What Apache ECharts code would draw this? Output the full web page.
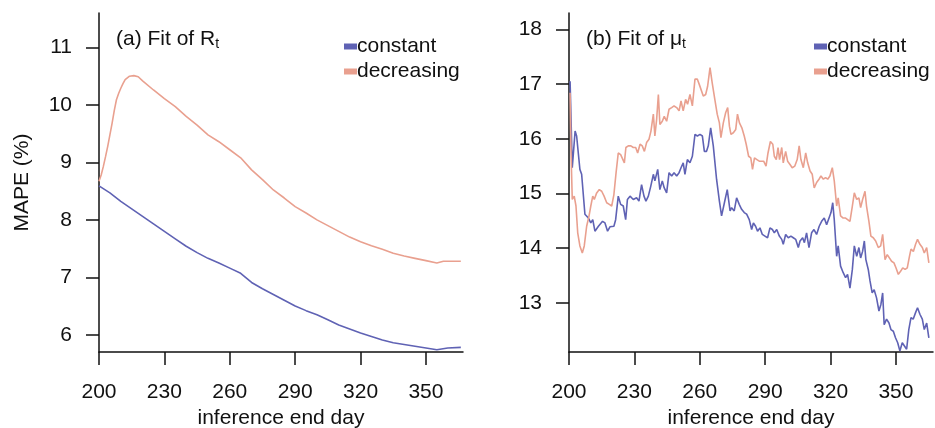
<!DOCTYPE html>
<html>
<head>
<meta charset="utf-8">
<script src="https://cdn.jsdelivr.net/npm/echarts@6/dist/echarts.min.js"></script>
<style>html,body{margin:0;padding:0;background:#fff;}#c{width:935px;height:428px;}</style>
</head>
<body>
<div id="c"></div>
<script>
// ---- Panel (a): Fit of R_t ----
const aConstDays = [200,205,210,215,220,225,230,235,240,245,250,255,260,265,270,275,280,285,290,295,300,305,310,315,320,325,330,335,340,345,350,355,360,366];
const aConstVals = [8.59,8.47,8.32,8.19,8.06,7.93,7.80,7.67,7.54,7.43,7.33,7.25,7.16,7.07,6.91,6.80,6.70,6.60,6.50,6.42,6.35,6.26,6.17,6.10,6.03,5.97,5.91,5.86,5.83,5.80,5.77,5.74,5.77,5.78];
const aDecDays = [200,201,202,203,204,205,206,207,208,209,210,211,212,214,216,218,220,225,230,235,240,245,250,255,260,265,270,275,280,285,290,295,300,305,310,315,320,325,330,335,340,345,350,355,358,366];
const aDecVals = [8.67,8.78,8.93,9.10,9.28,9.48,9.68,9.90,10.09,10.20,10.29,10.37,10.44,10.50,10.51,10.49,10.42,10.26,10.11,9.97,9.80,9.65,9.48,9.36,9.22,9.08,8.87,8.70,8.52,8.38,8.23,8.12,8.00,7.90,7.80,7.70,7.62,7.55,7.49,7.42,7.37,7.33,7.29,7.25,7.28,7.28];

// ---- Panel (b): Fit of mu_t ----
const bConstDays = [200.5,201.5,202.8,203.5,205,205.8,207.3,208.9,210,210.9,211.9,213.5,215.4,216.5,217.7,218.8,220.6,221.4,222.6,223.7,224.9,226,226.8,228,229.5,231,232.1,233.3,234.4,235.3,236.4,237.5,238.7,239.4,240.7,241.7,242.8,243.7,244.8,245.9,247.1,248.2,249.4,250.5,251.4,252.4,253.2,254.3,255.5,256.6,257.8,258.9,260.1,261.2,262.1,263.1,263.9,265,266.2,267.7,269,270,271.3,272.6,273.9,274.6,275.8,276.9,278.1,279.2,280.4,281.5,282.7,283.8,284.6,285.6,286.5,287.6,288.7,289.9,291.1,292.2,293.3,294.2,295.3,296.5,297.6,298.3,299.4,300.6,301.8,302.9,304,305.2,306,307.2,308,309,310.1,311.3,312.4,313.6,314.8,315.9,317.1,318.2,319.3,320.2,321,321.7,322.8,323.5,324.6,325.8,326.9,327.8,328.9,330,330.9,332,333,333.8,334.7,335.5,336.2,337.3,338.1,339.1,340,341.1,342.2,343.1,343.9,344.6,345.7,346.8,347.7,348.8,349.8,350.8,351.8,352.9,353.8,354.9,355.9,356.9,357.9,359,359.9,361,362.1,363,364.1,365.1];
const bConstVals = [17.05,15.47,16.14,16.05,15.44,15.35,14.62,14.55,14.46,14.52,14.31,14.40,14.49,14.46,14.31,14.39,14.40,14.52,14.95,14.80,14.77,14.52,14.89,14.95,14.89,14.92,14.86,15.16,14.95,14.86,14.95,15.13,15.35,15.23,15.44,15.07,15.23,15.10,15.01,15.38,15.32,15.38,15.32,15.38,15.47,15.56,15.35,15.62,15.56,15.68,16.08,16.05,16.08,16.05,15.77,15.77,15.87,16.20,15.87,15.26,14.86,14.59,14.83,15.07,14.68,14.74,14.68,14.92,14.80,14.71,14.65,14.62,14.52,14.34,14.46,14.40,14.31,14.37,14.25,14.22,14.19,14.37,14.34,14.28,14.34,14.22,14.16,14.07,14.25,14.19,14.22,14.19,14.16,14.01,14.13,14.19,14.10,14.28,14.01,14.28,14.34,14.25,14.40,14.49,14.55,14.43,14.55,14.65,14.83,14.52,13.85,14.04,13.67,13.55,13.46,13.52,13.27,13.61,14.04,13.85,14.01,13.82,13.94,14.13,13.79,13.61,13.40,13.18,13.24,13.09,12.85,12.97,13.18,12.60,12.70,12.63,12.51,12.48,12.36,12.27,12.12,12.27,12.24,12.15,12.51,12.73,12.70,12.82,12.91,12.79,12.70,12.51,12.63,12.36];
const bDecDays = [200.5,200.9,201.5,202.4,203.2,204,205,206.1,207,208.1,209.2,210,210.9,211.6,212.7,213.9,215,216.1,217.3,218.5,219.6,220.6,221.6,222.6,223.7,224.6,225.4,226.1,227.2,228.4,229.5,230.6,231.5,232.6,233.6,234.6,235.6,236.7,237.6,238.7,239.4,240.2,241,241.7,242.8,243.7,244.8,245.9,247.1,248.2,249.4,250.5,251.4,252.4,253.5,254.4,255.5,256.6,257.8,258.9,259.8,260.6,261.6,262.7,263.6,264.7,265.7,266.9,268,269,269.7,270.8,271.9,272.8,273.6,274.3,275.4,276.5,277.3,278.2,279.3,280.4,281.3,282.4,283.4,284.2,285.1,286.2,287.3,288.2,289.3,290.4,291.3,292.4,293.5,294.2,295.1,295.9,296.6,297.6,298.3,299.4,300.3,301.4,302.4,303.6,304.7,305.6,306.4,307.5,308.6,309.5,310.6,311.6,312.5,313.6,314.7,315.6,316.7,317.7,318.7,319.7,320.8,321.7,322.8,323.5,324.6,325.8,326.9,327.8,328.9,330,330.9,332,333,333.8,334.7,335.8,336.5,337.6,338.5,339.6,340.7,341.9,343,343.9,345,346,346.9,348,349.1,350,351.1,352.2,353.1,354.2,355.2,356.2,356.9,358,359,359.9,361,362.1,363,364.1,365.1];
const bDecVals = [16.84,15.80,14.89,14.95,14.77,14.28,14.04,13.91,14.04,14.40,14.59,14.77,14.95,14.89,15.01,15.07,15.04,14.95,14.83,14.80,14.77,14.98,15.38,15.74,15.71,15.68,15.56,15.84,15.87,15.87,15.84,15.84,15.74,15.90,15.87,15.77,15.93,15.99,16.14,16.45,16.05,16.35,16.81,16.26,16.32,16.41,16.32,16.54,16.57,16.60,16.57,16.51,16.69,16.51,16.72,16.63,16.81,16.60,17.09,17.09,16.99,16.99,16.78,16.81,16.96,17.30,17.02,16.72,16.45,16.29,16.02,16.29,16.48,16.57,16.23,16.08,16.11,16.17,16.45,16.29,16.20,16.05,15.90,15.68,15.65,15.44,15.65,15.62,15.59,15.56,15.59,15.50,15.74,15.95,15.90,15.68,15.62,15.84,15.62,15.84,15.56,15.77,15.59,15.53,15.47,15.50,15.62,15.87,15.62,15.47,15.74,15.56,15.41,15.35,15.10,15.20,15.26,15.32,15.26,15.29,15.26,15.32,15.47,15.23,14.77,14.92,14.59,14.55,14.55,14.52,14.49,14.77,15.01,14.89,14.92,14.74,14.89,15.04,14.77,14.49,14.22,14.19,14.13,14.01,14.04,14.25,13.79,13.88,13.85,13.76,13.73,13.64,13.52,13.58,13.64,13.61,13.64,13.85,13.98,13.94,14.07,14.16,14.07,14.01,13.91,14.01,13.73];

const xTicks = [200,230,260,290,320,350];
const aYTicks = [6,7,8,9,10,11];
const bYTicks = [13,14,15,16,17,18];
const seriesNames = ['constant','decreasing'];

const BLUE = '#5f62b4';
const SALMON = '#e9a08f';
const FONT = 'Liberation Sans, Arial, sans-serif';
const FS = 21;

function pairs(d, v){ return d.map((x,i)=>[x, v[i]]); }

function xAxisCfg(gi){
  return {
    type:'value', gridIndex:gi, min:200, max:367,
    name: 'inference end day', nameLocation:'middle', nameGap:55,
    nameTextStyle:{color:'#111', fontSize:FS, fontFamily:FONT},
    axisLine:{show:true, onZero:false, lineStyle:{color:'#111', width:1.5}},
    axisTick:{show:true, inside:false, length:13, lineStyle:{color:'#111', width:1.5}, customValues:xTicks},
    axisLabel:{show:true, margin:30, color:'#111', fontSize:FS, fontFamily:FONT, customValues:xTicks},
    splitLine:{show:false}
  };
}
function yAxisCfg(gi, min, max, ticks, name){
  return {
    type:'value', gridIndex:gi, min:min, max:max,
    name: name, nameLocation:'middle', nameGap:66,
    nameTextStyle:{color:'#111', fontSize:FS, fontFamily:FONT},
    axisLine:{show:true, onZero:false, lineStyle:{color:'#111', width:1.5}},
    axisTick:{show:true, inside:false, length:13, lineStyle:{color:'#111', width:1.5}, customValues:ticks},
    axisLabel:{show:true, margin:27, color:'#111', fontSize:FS, fontFamily:FONT, customValues:ticks},
    splitLine:{show:false}
  };
}
function lineSeries(name, xi, data, color){
  return {
    type:'line', name:name, xAxisIndex:xi, yAxisIndex:xi, data:data,
    showSymbol:false, symbol:'none', color:color,
    lineStyle:{color:color, width:1.6}, animation:false, clip:true
  };
}
function legendCfg(left){
  return {
    orient:'vertical', left:left, top:31, data:seriesNames, selectedMode:false,
    icon:'rect', itemWidth:13, itemHeight:6, itemGap:4,
    textStyle:{color:'#111', fontSize:FS, fontFamily:FONT, padding:[0,0,0,-5]}
  };
}
const titleRich = {
  sub:{fontSize:14, fontFamily:FONT, color:'#111', verticalAlign:'bottom', padding:[9,0,0,0]}
};

const chart = echarts.init(document.getElementById('c'), null, {renderer:'canvas'});
chart.setOption({
  backgroundColor:'#fff',
  animation:false,
  title:[
    {text:'(a) Fit of R{sub|t}', left:116, top:28, padding:0,
     textStyle:{color:'#111', fontSize:FS, fontWeight:'normal', fontFamily:FONT, rich:titleRich}},
    {text:'(b) Fit of μ{sub|t}', left:586, top:28, padding:0,
     textStyle:{color:'#111', fontSize:FS, fontWeight:'normal', fontFamily:FONT, rich:titleRich}}
  ],
  legend:[legendCfg(339), legendCfg(809)],
  grid:[
    {left:99, top:13, width:364, height:339, containLabel:false, outerBoundsMode:'none'},
    {left:569, top:13, width:364, height:339, containLabel:false, outerBoundsMode:'none'}
  ],
  xAxis:[xAxisCfg(0), xAxisCfg(1)],
  yAxis:[yAxisCfg(0, 5.7, 11.6, aYTicks, 'MAPE (%)'), yAxisCfg(1, 12.1, 18.3, bYTicks, '')],
  series:[
    lineSeries(seriesNames[0], 0, pairs(aConstDays, aConstVals), BLUE),
    lineSeries(seriesNames[1], 0, pairs(aDecDays, aDecVals), SALMON),
    lineSeries(seriesNames[0], 1, pairs(bConstDays, bConstVals), BLUE),
    lineSeries(seriesNames[1], 1, pairs(bDecDays, bDecVals), SALMON)
  ]
});
</script>
</body>
</html>
